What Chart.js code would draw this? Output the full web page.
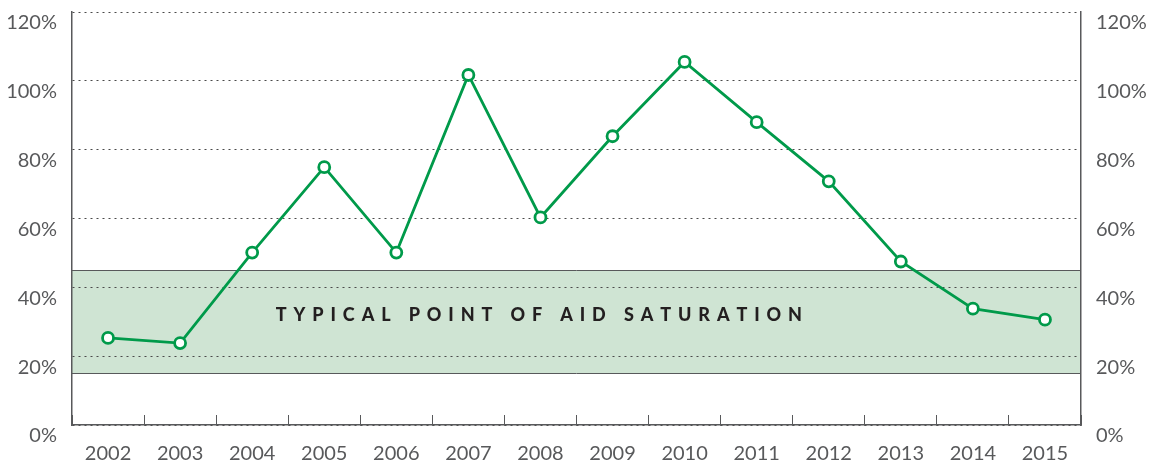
<!DOCTYPE html>
<html>
<head>
<meta charset="utf-8">
<script src="https://cdn.jsdelivr.net/npm/chart.js@4"></script>
<style>
  html, body { margin: 0; padding: 0; background: #fff; }
  #wrap { width: 1157px; height: 463px; position: relative; }
</style>
</head>
<body>
<div id="wrap"><canvas id="aidChart"></canvas></div>
<script>
// Aid as share of ... by year, with the saturation band
const years = ['2002', '2003', '2004', '2005', '2006', '2007', '2008', '2009', '2010', '2011', '2012', '2013', '2014', '2015'];
const aidPct = [25.3, 23.8, 50.1, 74.9, 50.1, 101.7, 60.3, 83.9, 105.5, 88.0, 70.8, 47.5, 33.8, 30.6];
const yTicks = [0, 20, 40, 60, 80, 100, 120];
const band = [15, 45];
const bandLabel = 'TYPICAL POINT OF AID SATURATION';

const GREEN = '#009a4a';
const GREY = '#58595b';
const FONT = 'Lato, "Open Sans", sans-serif';

// light green band behind the grid, edged top and bottom
const bandPlugin = {
  id: 'saturationBand',
  beforeDraw(chart){
    const { ctx, chartArea: a, scales: { y } } = chart;
    const top = y.getPixelForValue(band[1]);
    const bot = y.getPixelForValue(band[0]);
    ctx.save();
    ctx.fillStyle = '#cfe4d3';
    ctx.fillRect(a.left, top, a.right - a.left, bot - top);
    ctx.strokeStyle = GREY;
    ctx.lineWidth = 1;
    ctx.beginPath();
    ctx.moveTo(a.left, Math.round(top) + 0.5); ctx.lineTo(a.right, Math.round(top) + 0.5);
    ctx.moveTo(a.left, Math.round(bot) + 0.5); ctx.lineTo(a.right, Math.round(bot) + 0.5);
    ctx.stroke();
    ctx.restore();
  },
  beforeDatasetsDraw(chart){
    const { ctx, chartArea: a, scales: { y } } = chart;
    const spacing = 6.9;
    ctx.save();
    ctx.font = '900 18px ' + FONT;
    ctx.fillStyle = '#231f20';
    ctx.textBaseline = 'middle';
    let x = a.left + (a.right - a.left) * 0.202;
    const yy = y.getPixelForValue(32);
    for(const ch of bandLabel){
      ctx.fillText(ch, x, yy);
      x += ctx.measureText(ch).width + spacing;
    }
    ctx.restore();
  }
};

const tickFont = { family: FONT, size: 20 };
const noPad = (s) => { s.paddingTop = 0; s.paddingBottom = 0; };

new Chart(document.getElementById('aidChart'), {
  type: 'line',
  data: {
    labels: years,
    datasets: [{
      data: aidPct,
      borderColor: GREEN,
      borderWidth: 2.8,
      pointRadius: 5.5,
      pointHoverRadius: 5.5,
      pointBorderWidth: 2.8,
      pointBackgroundColor: '#fff',
      pointBorderColor: GREEN,
      tension: 0,
      yAxisID: 'y'
    }]
  },
  options: {
    responsive: true,
    maintainAspectRatio: false,
    animation: false,
    layout: { padding: { top: 12, left: 0, right: 0, bottom: 0 } },
    plugins: { legend: { display: false }, tooltip: { enabled: false } },
    scales: {
      x: {
        offset: true,
        grid: { offset: true, drawOnChartArea: false, drawTicks: true, tickLength: -10, color: GREY, lineWidth: 1 },
        border: { display: true, color: GREY, width: 1.5 },
        ticks: { color: GREY, font: tickFont, padding: 27, maxRotation: 0 },
        afterFit(s){ s.height = 38; s.paddingLeft = 0; s.paddingRight = 0; }
      },
      y: {
        position: 'left',
        min: 0, max: 120,
        afterBuildTicks(s){ s.ticks = yTicks.map(v => ({ value: v })); },
        grid: { drawTicks: false, color: '#4a4a4a', lineWidth: 1 },
        border: { display: true, color: GREY, width: 1.5, dash: [2, 4] },
        ticks: { color: GREY, font: tickFont, padding: 15, labelOffset: 11, callback: v => v + '%' },
        afterFit(s){ s.width = 72; noPad(s); }
      },
      y2: {
        position: 'right',
        min: 0, max: 120,
        afterBuildTicks(s){ s.ticks = yTicks.map(v => ({ value: v })); },
        grid: { display: false, drawTicks: false },
        border: { display: true, color: GREY, width: 1.5 },
        ticks: { color: GREY, font: tickFont, padding: 15, labelOffset: 11, callback: v => v + '%' },
        afterFit(s){ s.width = 76; noPad(s); }
      }
    }
  },
  plugins: [bandPlugin]
});
</script>
</body>
</html>
